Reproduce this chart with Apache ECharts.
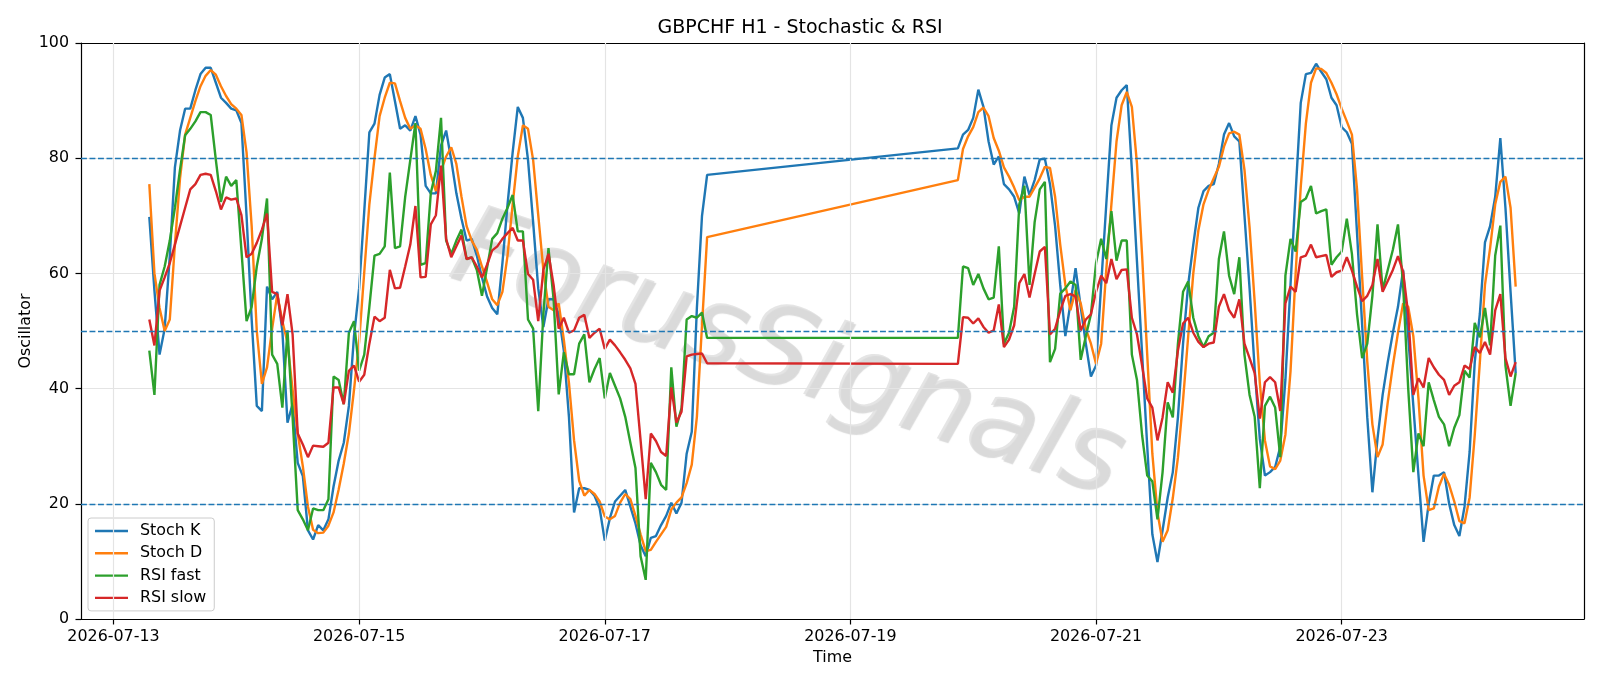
<!DOCTYPE html>
<html>
<head>
<meta charset="utf-8">
<title>GBPCHF H1 - Stochastic & RSI</title>
<script src="https://cdn.jsdelivr.net/npm/echarts@6/dist/echarts.min.js"></script>
<style>
    html, body { margin: 0; padding: 0; background: #fff; }
    #chart { width: 1600px; height: 686px; }
</style>
</head>
<body>
<div id="chart"></div>
<script>
// hourly bars, two runs with the weekend in between
var runStarts = ['2026-07-13T07:00:00Z', '2026-07-19T21:00:00Z'];
var barsPerRun = 110;
var tickDates = ['2026-07-13', '2026-07-15', '2026-07-17', '2026-07-19', '2026-07-21', '2026-07-23'];
var seriesNames = ['Stoch K', 'Stoch D', 'RSI fast', 'RSI slow'];
var guideLevels = [20, 50, 80];

var stochK = [
    69.8, 57, 45.9, 50.4, 63, 78.4, 84.8, 88.6, 88.6, 91.8,
    94.6, 95.7, 95.7, 93.1, 90.5, 89.6, 88.6, 88.3, 86.1, 70,
    52, 37, 36.1, 57.7, 55.5, 56.8, 50, 34.1, 37.3, 27.1,
    24.8, 15.4, 13.8, 16.3, 15.4, 17.3, 23, 27.5, 30.6, 37,
    49.1, 57.4, 70.8, 84.5, 86, 91, 94, 94.6, 89.9, 85.1,
    85.7, 84.8, 87.3, 84.1, 75.2, 73.9, 73.9, 82.2, 84.8, 79.7,
    73.9, 69.5, 65.7, 66, 63.1, 59.3, 56, 54, 52.9, 61.8,
    72, 81, 88.9, 87, 79.7, 68.9, 57.4, 50.7, 55.5, 55.5,
    52.9, 46.6, 35.1, 18.5, 22.7, 22.7, 22.4, 21.4, 19.2, 13.6,
    17.5, 20.4, 21.4, 22.4, 19.5, 16.6, 12.8, 10.9, 14.1, 14.4,
    16.3, 17.9, 20.2, 18.3, 20.2, 28.7, 32.5, 54, 70, 77.1,
    // sunday open
    81.7, 84.1, 84.9, 87, 91.9, 88.9, 82.9, 78.9, 80.3, 75.5,
    74.6, 73.3, 70.4, 76.8, 73.6, 76.2, 79.8, 79.9, 75.5, 68.2,
    58, 49.1, 54.8, 60.9, 54.2, 47.8, 42.1, 44, 58, 72,
    85.7, 90.5, 91.8, 92.7, 78, 62, 46, 30, 14.7, 9.9,
    15.4, 21.1, 25.5, 35, 47.8, 58, 65, 71.4, 74.3, 75.2,
    75.5, 79, 84.1, 86.1, 83.8, 82.9, 70.1, 57.4, 43.4, 31.3,
    24.9, 25.5, 26.4, 29.9, 41.5, 58, 74, 89.6, 94.6, 94.8,
    96.4, 95, 93.7, 90.5, 89.2, 85.4, 84.5, 82.5, 67, 51,
    35, 22, 31.3, 38.9, 44.6, 49.7, 54.2, 60.6, 49, 37,
    25, 13.4, 20, 24.9, 24.9, 25.5, 20, 16.3, 14.4, 19.5,
    29, 44.6, 53, 65.4, 68.2, 73.3, 83.5, 71.4, 56.8, 42.7
];

var stochD = [
    75.5, 60, 54, 50, 52, 65, 76.5, 84.1, 87, 89.9,
    92.5, 94.3, 95.3, 94.5, 92.5, 90.8, 89.4, 88.6, 87.5, 81,
    68.2, 50, 40.8, 43.7, 50.4, 56.4, 51.7, 48, 39.8, 32.2,
    26.5, 19.5, 15.5, 14.9, 15, 16.2, 18.5, 22.5, 27, 32.2,
    39.8, 48.2, 60.2, 72, 80, 87.3, 90.5, 93.1, 93, 89.9,
    87, 85.1, 85.7, 85.1, 81.6, 77.1, 74.3, 77.8, 80.3, 81.9,
    79, 73.3, 68.2, 65.7, 64.1, 61.2, 58.5, 55.5, 54.5, 56.8,
    63.1, 72, 80.3, 85.7, 85.1, 79.7, 70.1, 60.6, 54.2, 53.6,
    54.8, 48.5, 41, 31, 24, 21.4, 22.4, 21.7, 20.4, 17.8,
    17.3, 17.9, 20.2, 21.7, 20.8, 17.9, 14.7, 11.8, 12, 13.4,
    14.7, 16, 19, 20.2, 21.1, 23.6, 26.8, 35.1, 51, 66.3,
    // sunday open
    76.2, 81.6, 83.8, 85.4, 88, 88.8, 87.3, 83.5, 81.3, 78.4,
    76.8, 74.9, 72.7, 73.3, 73.3, 74.9, 76.5, 78.5, 78.3, 73.3,
    65, 58, 53.6, 57.1, 54.8, 50.4, 47.8, 44.3, 47.8, 60.6,
    72, 82.9, 89.2, 91.5, 88.9, 79, 63.1, 45.9, 28.7, 18.5,
    13.4, 15.4, 21, 28, 38, 49, 60, 67.5, 72, 74.5,
    76.5, 78.5, 82, 84.3, 84.6, 84.1, 78, 68, 55, 41,
    31, 26.5, 26, 27.5, 32, 43, 60, 75, 86, 93.1,
    95.6, 95.5, 94.8, 93.1, 91.1, 88.6, 86.4, 84.1, 74.6, 59.3,
    44.7, 33.8, 28.1, 30.3, 37.6, 44, 49.7, 54.8, 54.2, 49.1,
    38.3, 24.9, 18.9, 19.2, 23, 25.2, 23.3, 20.4, 17, 16.6,
    21.1, 31.9, 44.6, 58, 64.4, 72, 75.9, 76.8, 71.4, 57.7
];

var rsiFast = [
    46.6, 38.9, 58, 61.2, 65.7, 71.4, 78, 84, 85.1, 86.4,
    88, 88, 87.5, 79.7, 72.4, 76.8, 75.2, 76.2, 64, 51.7,
    54.2, 61.2, 66, 73, 45.9, 44.3, 36.7, 50.1, 35, 18.9,
    17.3, 15.4, 19.2, 18.9, 18.9, 20.8, 42.1, 41.5, 37.3, 49.7,
    51.7, 43.1, 45.9, 54.2, 63.1, 63.4, 64.7, 77.5, 64.4, 64.7,
    73.3, 79.7, 86.1, 61.5, 61.8, 73.9, 77.8, 87, 65.7, 63.4,
    65.7, 67.6, 62.5, 62.8, 60.6, 56.1, 61, 66, 67, 69.5,
    71.4, 73.6, 67.3, 67.3, 52, 50.4, 36.1, 52.9, 64.4, 55.5,
    39, 46.3, 42.5, 42.5, 47.8, 49.4, 41.1, 43.4, 45.3, 38.3,
    42.7, 40.5, 38.3, 35.1, 30.6, 26.2, 10.9, 6.8, 27.1, 25.5,
    23.3, 22.4, 43.7, 33.4, 36.6, 52, 52.6, 52.3, 53.2, 48.8,
    // sunday open
    48.8, 61.2, 60.9, 58, 59.9, 57.4, 55.5, 55.8, 64.7, 47.8,
    49.7, 54.2, 72, 75.2, 58, 68.9, 74.6, 75.9, 44.6, 46.9,
    56.5, 57.4, 58.6, 58, 45, 49.1, 52.9, 61.8, 66, 62.5,
    70.8, 62.2, 65.7, 65.7, 45.9, 41.5, 31.9, 24.9, 23.9, 17.3,
    25.5, 37.6, 35, 47.8, 56.8, 58.6, 52.3, 49.1, 47.2, 49.1,
    49.7, 62.5, 67.3, 59.6, 56.4, 62.8, 45.9, 38.9, 35.1, 22.7,
    37, 38.6, 36.7, 28.1, 59.6, 66, 63.8, 72.4, 73, 75.2,
    70.4, 70.8, 71.1, 61.5, 62.8, 63.8, 69.5, 63.4, 52.9, 45.3,
    47.8, 56.1, 68.5, 57.1, 60.6, 64.1, 68.5, 58, 40, 25.5,
    32.2, 30, 41.1, 38, 35.1, 33.8, 30, 33.2, 35.4, 43.1,
    41.9, 51.4, 48.9, 54, 47.5, 63.1, 68.3, 44, 37, 42.7
];

var rsiSlow = [
    52, 47.5, 57, 59.3, 61.8, 65, 68.2, 71.4, 74.6, 75.5,
    77.1, 77.3, 77.1, 74.3, 71.1, 73.2, 72.8, 73, 70.1, 62.8,
    63.4, 65.3, 67.6, 70.4, 56.8, 56.4, 51, 56.4, 49.4, 32.2,
    30.3, 28.1, 30.1, 30, 29.9, 30.6, 40.2, 40.2, 37.3, 43.1,
    44, 41.2, 42.4, 47.8, 52.5, 51.7, 52.3, 60.6, 57.4, 57.5,
    61.2, 65, 71.7, 59.3, 59.4, 68.5, 70.1, 78.7, 66, 62.8,
    64.7, 66.6, 62.5, 62.8, 61.2, 59.3, 61.5, 64, 64.7, 66,
    67, 67.9, 65.7, 65.7, 59.9, 58.9, 51.7, 60.6, 63.4, 58,
    50.4, 52.3, 49.7, 50.1, 52.3, 52.8, 48.8, 49.7, 50.4, 46.9,
    48.5, 47.5, 46.3, 45, 43.5, 40.8, 31, 20.8, 32.2, 30.9,
    29, 28.3, 40.2, 34.1, 36, 45.6, 45.9, 46, 46.1, 44.4,
    // sunday open
    44.3, 52.4, 52.3, 51.3, 52.2, 50.7, 49.7, 50.1, 54.6, 47.2,
    48.5, 51, 58.3, 59.9, 55.8, 59.9, 63.8, 64.6, 49.4, 50.4,
    53.5, 56.1, 56.4, 56, 50.1, 52, 52.9, 56.8, 59.6, 58.3,
    62.5, 59, 60.6, 60.7, 52.3, 49.4, 44, 38.3, 36.7, 31,
    35, 41.1, 39.3, 46.6, 51.3, 52.3, 49.7, 48.1, 47.2, 47.8,
    48, 54.2, 56.4, 53.6, 52.3, 55.5, 47.8, 45.3, 42.7, 34.8,
    41.1, 42, 41.1, 36.1, 54.8, 57.7, 56.8, 62.8, 63.1, 65,
    62.8, 63, 63.2, 59.4, 60.2, 60.5, 62.8, 60.5, 57.7, 55.2,
    56.1, 58, 62.5, 56.8, 58.7, 60.6, 63, 60.3, 52.9, 38.9,
    41.8, 40.2, 45.3, 43.7, 42.4, 41.5, 38.9, 40.5, 41.1, 44,
    43.4, 47.2, 46.2, 48.1, 45.9, 53.6, 56.4, 45.3, 42.1, 44.6
];

var HOUR = 3600000;
var FONT = 'DejaVu Sans';
var COLORS = ['#1f77b4', '#ff7f0e', '#2ca02c', '#d62728'];

function buildTimes() {
    var out = [];
    runStarts.forEach(function (s) {
        var t0 = Date.parse(s);
        for (var i = 0; i < barsPerRun; i++) {
            out.push(t0 + i * HOUR);
        }
    });
    return out;
}

function pad(n) {
    return n < 10 ? '0' + n : '' + n;
}

function dayLabel(v) {
    var d = new Date(v);
    return d.getUTCFullYear() + '-' + pad(d.getUTCMonth() + 1) + '-' + pad(d.getUTCDate());
}

var times = buildTimes();
var tickValues = tickDates.map(function (s) { return Date.parse(s + 'T00:00:00Z'); });
var span = times[times.length - 1] - times[0];
var xMin = times[0] - span * 0.05;
var xMax = times[times.length - 1] + span * 0.05;

function makeLine(name, values, color) {
    return {
        name: name,
        type: 'line',
        z: 3,
        showSymbol: false,
        symbol: 'none',
        animation: false,
        lineStyle: { color: color, width: 2.4 },
        itemStyle: { color: color },
        data: times.map(function (t, i) { return [t, values[i]]; })
    };
}

var series = [
    {
        // vertical grid lines at the date ticks
        type: 'line',
        z: 1,
        data: [],
        silent: true,
        markLine: {
            silent: true,
            symbol: ['none', 'none'],
            label: { show: false },
            lineStyle: { color: '#e4e4e4', width: 1.2, type: 'solid' },
            data: tickValues.map(function (v) { return { xAxis: v }; })
        }
    },
    makeLine(seriesNames[0], stochK, COLORS[0]),
    makeLine(seriesNames[1], stochD, COLORS[1]),
    makeLine(seriesNames[2], rsiFast, COLORS[2]),
    makeLine(seriesNames[3], rsiSlow, COLORS[3])
];

series[4].markLine = {
    silent: true,
    symbol: ['none', 'none'],
    label: { show: false },
    lineStyle: { color: '#1f77b4', width: 1.4, type: [5.9, 2.6] },
    data: guideLevels.map(function (v) { return { yAxis: v }; })
};

var chart = echarts.init(document.getElementById('chart'), null, { renderer: 'canvas' });

chart.setOption({
    animation: false,
    backgroundColor: '#ffffff',
    title: {
        text: 'GBPCHF H1 - Stochastic & RSI',
        left: 'center',
        top: 14,
        textStyle: { fontFamily: FONT, fontSize: 19, fontWeight: 'normal', color: '#000' }
    },
    grid: { left: 81, right: 16, top: 43, bottom: 67 },
    legend: {
        data: seriesNames,
        orient: 'vertical',
        left: 88,
        top: 518,
        icon: 'rect',
        itemWidth: 33,
        itemHeight: 2.4,
        itemGap: 4.3,
        padding: [4, 8, 4, 7],
        borderColor: '#cccccc',
        borderWidth: 1,
        borderRadius: 3,
        backgroundColor: 'rgba(255,255,255,0.8)',
        textStyle: { fontFamily: FONT, fontSize: 15.9, color: '#000', lineHeight: 18, padding: [0, 0, 0, 7] }
    },
    graphic: [{
        type: 'text',
        z: 0,
        silent: true,
        x: 786,
        y: 358,
        rotation: -0.32,
        style: {
            text: 'ForusSignals',
            fontFamily: FONT,
            fontSize: 110,
            fontStyle: 'italic',
            fontWeight: 'lighter',
            fill: 'rgba(218,218,218,0.7)',
            align: 'center',
            verticalAlign: 'middle',
            textShadowColor: 'rgba(140,140,140,0.45)',
            textShadowOffsetX: 2,
            textShadowOffsetY: 2,
            textShadowBlur: 1
        }
    }],
    xAxis: [{
        type: 'value',
        min: xMin,
        max: xMax,
        name: 'Time',
        nameLocation: 'middle',
        nameGap: 31,
        nameTextStyle: { fontFamily: FONT, fontSize: 15.9, color: '#000' },
        axisLine: { onZero: false, lineStyle: { color: '#000', width: 1.2 } },
        axisTick: { customValues: tickValues, length: 5.5, lineStyle: { color: '#000', width: 1.2 } },
        axisLabel: {
            customValues: tickValues,
            formatter: dayLabel,
            margin: 10,
            fontFamily: FONT,
            fontSize: 15.9,
            color: '#000'
        },
        splitLine: { show: false }
    }, {
        type: 'value',
        position: 'top',
        min: xMin,
        max: xMax,
        axisLine: { show: true, onZero: false, lineStyle: { color: '#000', width: 1.2 } },
        axisTick: { show: false },
        axisLabel: { show: false },
        splitLine: { show: false }
    }],
    yAxis: [{
        type: 'value',
        min: 0,
        max: 100,
        interval: 20,
        name: 'Oscillator',
        nameLocation: 'middle',
        nameGap: 47,
        nameMoveOverlap: false,
        nameTextStyle: { fontFamily: FONT, fontSize: 15.9, color: '#000' },
        axisLine: { show: true, onZero: false, lineStyle: { color: '#000', width: 1.2 } },
        axisTick: { show: true, length: 5.5, lineStyle: { color: '#000', width: 1.2 } },
        axisLabel: { margin: 12, fontFamily: FONT, fontSize: 15.9, color: '#000' },
        splitLine: { show: true, lineStyle: { color: '#e4e4e4', width: 1.2 } }
    }, {
        type: 'value',
        position: 'right',
        min: 0,
        max: 100,
        axisLine: { show: true, onZero: false, lineStyle: { color: '#000', width: 1.2 } },
        axisTick: { show: false },
        axisLabel: { show: false },
        splitLine: { show: false }
    }],
    series: series
});
</script>
</body>
</html>
